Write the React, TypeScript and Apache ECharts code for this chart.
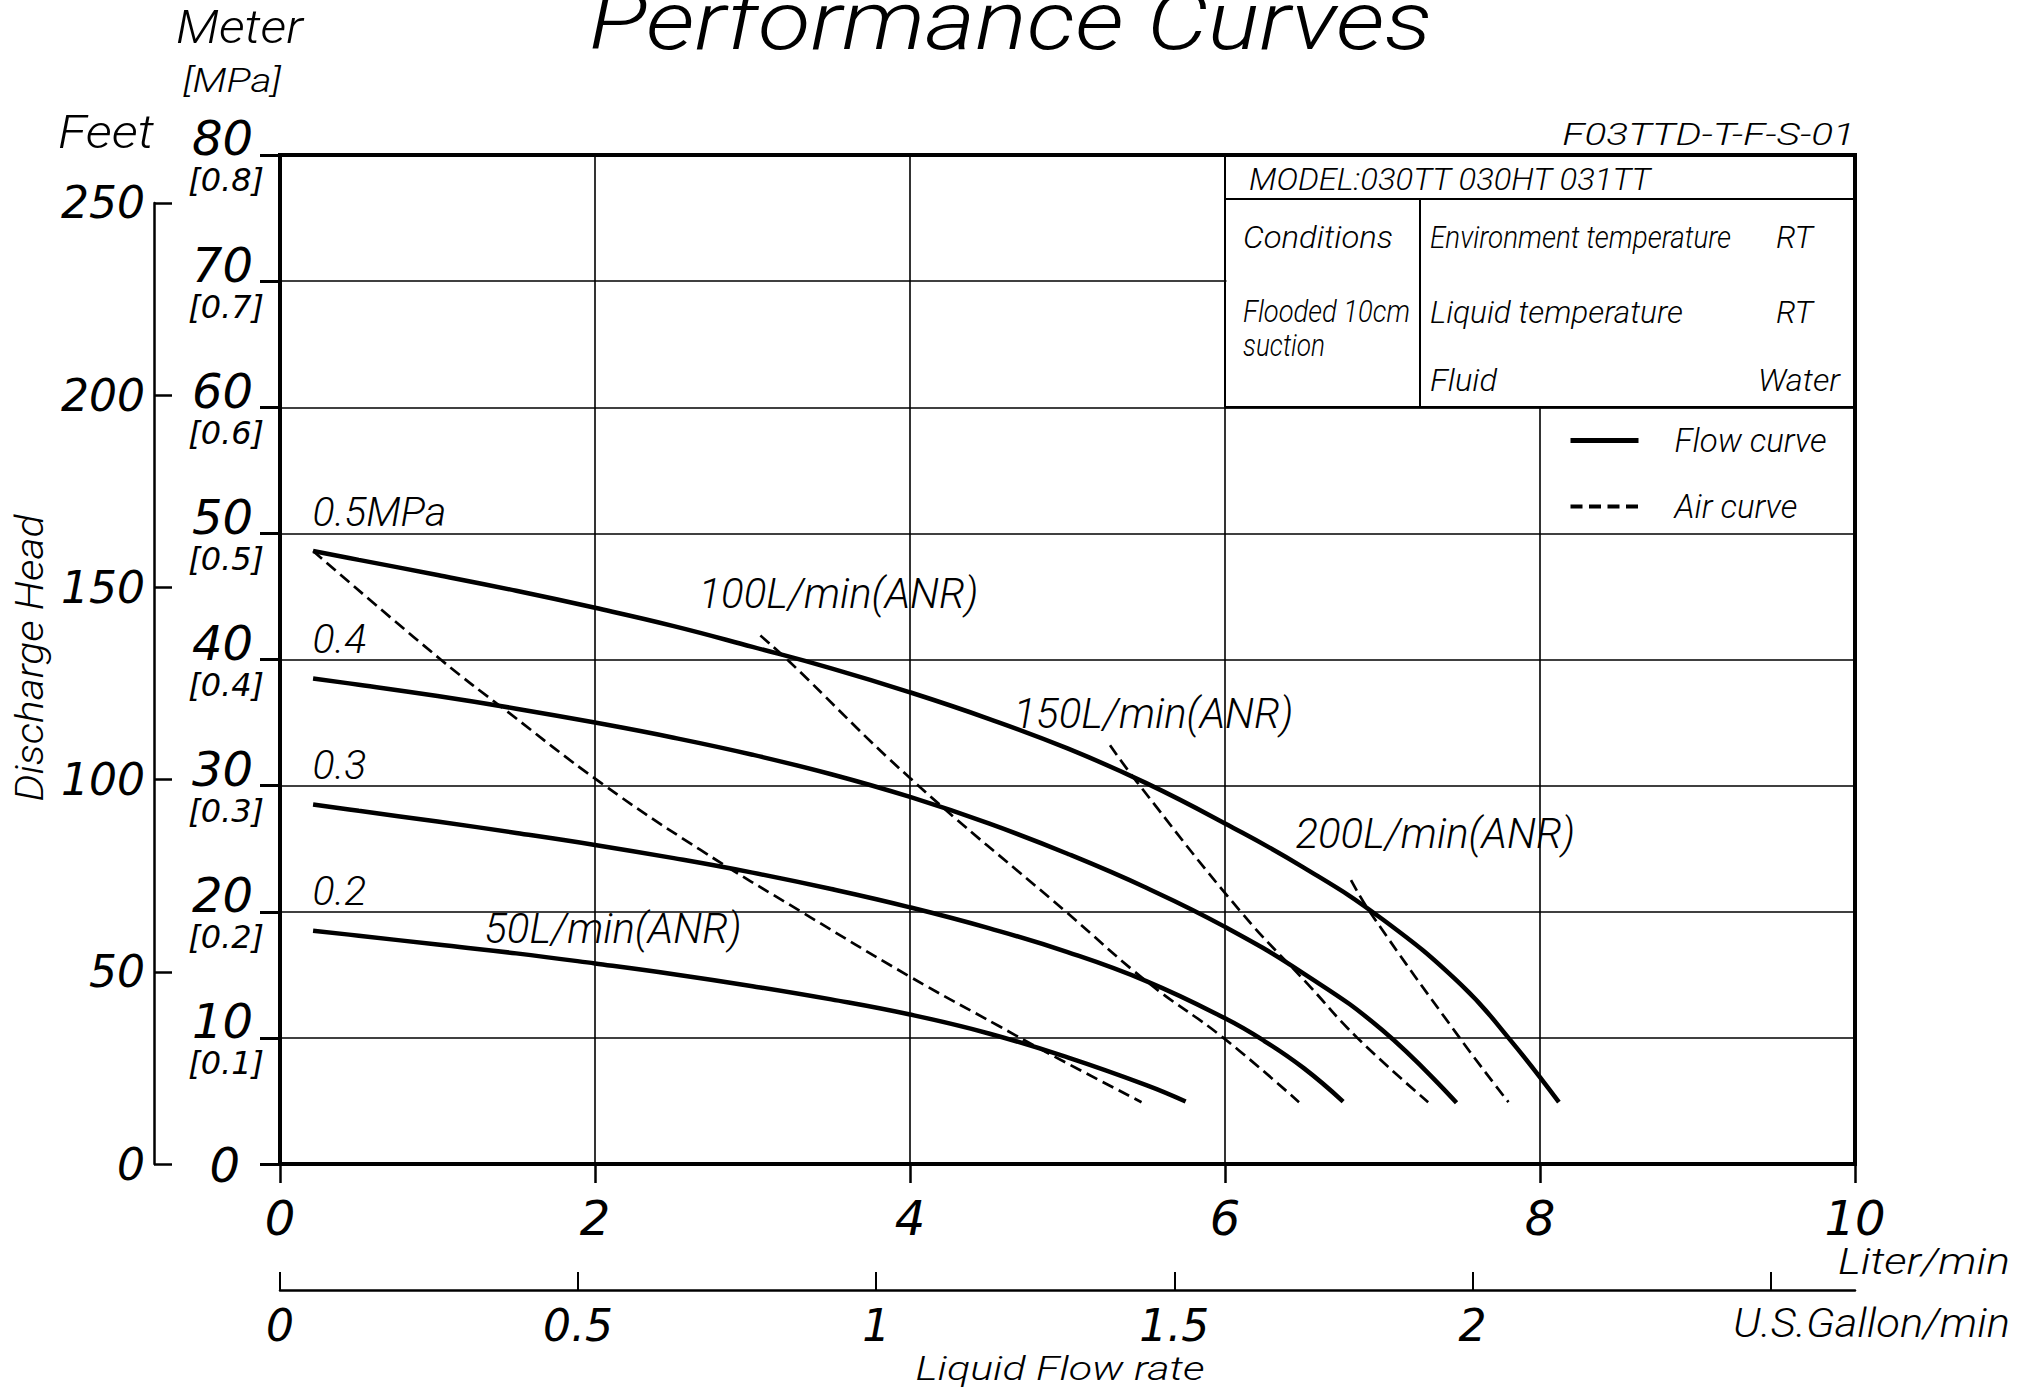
import React, { useEffect, useRef } from 'react';
import * as echarts from 'echarts';

const W = 2035;
const H = 1389;
const FF = '"DejaVu Sans", "Liberation Sans", Arial, sans-serif';
const FT = 'Roboto, "DejaVu Sans", sans-serif';

// ---------- axis ticks & labels ----------
const flowTicks = [0, 2, 4, 6, 8, 10];
const meterTicks = [0, 10, 20, 30, 40, 50, 60, 70, 80];
const mpaTickLabels = ['', '[0.1]', '[0.2]', '[0.3]', '[0.4]', '[0.5]', '[0.6]', '[0.7]', '[0.8]'];
const feetTicks = [0, 50, 100, 150, 200, 250];
const gallonTicks = [0, 0.5, 1, 1.5, 2, 2.5];
const gallonTickLabels = [0, 0.5, 1, 1.5, 2];

// ---------- flow curves (L/min, m) ----------
const flow05 = [[0.21, 48.6], [0.5, 47.9], [1, 46.7], [1.5, 45.45], [2, 44.1], [2.5, 42.65], [3, 41.0], [3.5, 39.3], [4, 37.4], [4.5, 35.3], [5, 32.95], [5.5, 30.2], [6, 27.0], [6.5, 23.5], [7, 19.4], [7.5, 14.2], [7.8, 10.0], [8.12, 4.9]];
const flow04 = [[0.21, 38.5], [0.5, 38.0], [1, 37.1], [1.5, 36.1], [2, 35.0], [2.5, 33.8], [3, 32.45], [3.5, 30.9], [4, 29.1], [4.5, 27.0], [5, 24.6], [5.5, 21.9], [6, 18.8], [6.5, 15.1], [7, 10.6], [7.47, 4.85]];
const flow03 = [[0.21, 28.5], [0.5, 28.0], [1, 27.15], [1.5, 26.25], [2, 25.3], [2.5, 24.25], [3, 23.1], [3.5, 21.8], [4, 20.35], [4.5, 18.7], [5, 16.8], [5.5, 14.5], [6, 11.55], [6.25, 9.75], [6.5, 7.6], [6.75, 4.95]];
const flow02 = [[0.21, 18.5], [0.5, 18.1], [1, 17.4], [1.5, 16.7], [2, 15.9], [2.5, 15.05], [3, 14.1], [3.5, 13.05], [4, 11.85], [4.5, 10.35], [5, 8.45], [5.5, 6.25], [5.75, 4.95]];

// ---------- air curves (L/min, m) ----------
const air50 = [[0.21, 48.6], [1.02, 40.0], [1.43, 36.0], [2.04, 30.2], [2.67, 24.9], [3.31, 20.0], [4.0, 14.85], [4.57, 10.9], [4.86, 8.9], [5.47, 4.9]];
const air100 = [[3.05, 41.9], [3.22, 40.0], [4.0, 30.6], [4.99, 20.0], [5.51, 14.4], [5.99, 10.0], [6.47, 4.9]];
const air150 = [[5.27, 33.2], [5.44, 30.3], [6.1, 20.0], [6.53, 14.2], [6.84, 10.0], [7.29, 4.9]];
const air200 = [[6.8, 22.5], [6.93, 19.8], [7.49, 10.0], [7.8, 4.9]];

// ---------- curve annotations ----------
const pressureLabels = [
  { text: '0.5MPa', x: 0.21, y: 50 },
  { text: '0.4', x: 0.21, y: 40 },
  { text: '0.3', x: 0.21, y: 30 },
  { text: '0.2', x: 0.21, y: 20 },
];
const airLabels = [
  { text: '50L/min(ANR)', x: 1.3, y: 17.0 },
  { text: '100L/min(ANR)', x: 2.66, y: 43.56 },
  { text: '150L/min(ANR)', x: 4.66, y: 34.02 },
  { text: '200L/min(ANR)', x: 6.45, y: 24.53 },
];

// ---------- info table texts ----------
const modelText = 'MODEL:030TT 030HT 031TT';
const conditionRows = [
  { name: 'Environment temperature', value: 'RT' },
  { name: 'Liquid temperature', value: 'RT' },
  { name: 'Fluid', value: 'Water' },
];

function measure(text: string, fs: number, weight: string | number, family: string) {
  const ctx = document.createElement('canvas').getContext('2d') as CanvasRenderingContext2D;
  ctx.font = `italic ${weight} ${fs}px ${family}`;
  return ctx.measureText(text).width || 1;
}

function gtext(text: string, x: number, baseline: number, fs: number, width: number, align: string = 'left', family: string = FT, weight: string | number = 300) {
  const w = measure(text, fs, weight, family);
  return {
    type: 'text',
    x,
    y: baseline - 0.342 * fs,
    scaleX: width / w,
    z: 120,
    silent: true,
    style: {
      text,
      fill: '#000',
      fontSize: fs,
      fontFamily: family,
      fontStyle: 'italic',
      fontWeight: weight,
      align,
      verticalAlign: 'middle',
    },
  };
}

function gline(x1: number, y1: number, x2: number, y2: number, w: number) {
  return {
    type: 'line',
    z: 115,
    silent: true,
    shape: { x1, y1, x2, y2 },
    style: { stroke: '#000', lineWidth: w },
  };
}

function buildOption() {
  const GL = 280, GR = 180, GT = 155, GB = 225;
  const gw = W - GL - GR;
  const gh = H - GT - GB;
  const px = (v: number) => GL + (v / 10) * gw;
  const py = (v: number) => GT + gh - (v / 80) * gh;

  const tLeft = px(6);
  const tRight = px(10);
  const tTop = py(80);
  const tBottom = py(60);
  const rowLine = 199;
  const divX = 1420;

  const lineSeries = (data: number[][], name: string, dashed: boolean) => ({
    type: 'line',
    name,
    data,
    smooth: 0.45,
    symbol: 'none',
    silent: true,
    z: 3,
    itemStyle: { color: '#000' },
    lineStyle: dashed ? { color: '#000', width: 2.7, type: [12, 6] } : { color: '#000', width: 4.5 },
  });

  const annot = (items: { text: string; x: number; y: number }[], fs: number, name: string) => ({
    type: 'scatter',
    name,
    symbolSize: 1,
    silent: true,
    z: 4,
    itemStyle: { color: 'rgba(0,0,0,0)', opacity: 1 },
    data: items.map((l) => ({ value: [l.x, l.y], label: { formatter: l.text } })),
    label: {
      show: true,
      position: [0, 0],
      align: 'left',
      verticalAlign: 'bottom',
      fontSize: fs,
      fontStyle: 'italic',
      fontFamily: FT,
      fontWeight: 300,
      color: '#000',
      opacity: 1,
      textBorderWidth: 0,
      textBorderColor: 'transparent',
    },
  });

  const graphic: any[] = [
    {
      type: 'rect',
      z: 110,
      silent: true,
      shape: { x: tLeft + 1.5, y: tTop + 2, width: tRight - tLeft - 3.5, height: tBottom - tTop - 3 },
      style: { fill: '#fff' },
    },
    gline(tLeft, tTop, tLeft, tBottom, 2),
    gline(tLeft, rowLine, tRight, rowLine, 2),
    gline(divX, rowLine, divX, tBottom, 2),
    gline(tLeft, tBottom, tRight, tBottom, 2.5),
    gtext(modelText, 1249, 190, 31, 403),
    gtext('Conditions', 1243, 248, 31, 150),
    gtext('Flooded 10cm', 1243, 322, 31, 167),
    gtext('suction', 1243, 356, 31, 82),
    gtext(conditionRows[0].name, 1430, 248, 31, 301),
    gtext(conditionRows[0].value, 1776, 248, 31, 37),
    gtext(conditionRows[1].name, 1430, 323, 31, 253),
    gtext(conditionRows[1].value, 1776, 323, 31, 37),
    gtext(conditionRows[2].name, 1430, 391, 31, 67),
    gtext(conditionRows[2].value, 1758, 391, 31, 82),
    gtext('F03TTD-T-F-S-01', 1855, 145, 31, 293, 'right'),
    gtext('Performance Curves', 589, 49, 81, 843),
    gtext('Meter', 176, 43, 47, 127),
    gtext('[MPa]', 183, 92, 33, 98),
    gtext('Feet', 58, 148, 46, 96),
    gtext('Liter/min', 1838, 1274, 37, 172),
    gtext('U.S.Gallon/min', 1733, 1337, 40, 277),
    gtext('Liquid Flow rate', 1060, 1380, 33, 289, 'center'),
  ];

  const dhW = measure('Discharge Head', 38, 300, FT);
  graphic.push({
    type: 'text',
    x: 30,
    y: 658,
    rotation: Math.PI / 2,
    scaleX: 287 / dhW,
    z: 120,
    silent: true,
    style: {
      text: 'Discharge Head',
      fill: '#000',
      fontSize: 38,
      fontFamily: FT,
      fontStyle: 'italic',
      fontWeight: 300,
      align: 'center',
      verticalAlign: 'middle',
    },
  });

  const labelFont = { fontFamily: FF, fontStyle: 'italic', color: '#000' };

  return {
    animation: false,
    backgroundColor: '#fff',
    grid: [
      { left: GL, right: GR, top: GT, bottom: GB, show: true, borderColor: '#000', borderWidth: 4, backgroundColor: 'transparent' },
      { left: 154, width: 20, top: py(250 * 0.3048), bottom: GB },
      { left: GL, right: GR, top: 1280, bottom: 99 },
    ],
    xAxis: [
      {
        type: 'value',
        gridIndex: 0,
        min: flowTicks[0],
        max: flowTicks[flowTicks.length - 1],
        interval: 2,
        axisLine: { show: true, lineStyle: { color: '#000', width: 4 } },
        axisTick: { show: true, length: 19, lineStyle: { color: '#000', width: 2.5 } },
        axisLabel: { ...labelFont, fontSize: 48, margin: 30 },
        splitLine: { show: true, lineStyle: { color: '#000', width: 1.6 } },
      },
      { type: 'value', gridIndex: 1, show: false, min: 0, max: 1 },
      {
        type: 'value',
        gridIndex: 2,
        position: 'bottom',
        min: 0,
        max: 10 / 3.785411784,
        interval: 0.5,
        axisLine: { show: true, lineStyle: { color: '#000', width: 2.5 } },
        axisTick: { show: true, inside: true, length: 18, lineStyle: { color: '#000', width: 2 }, customValues: gallonTicks },
        axisLabel: {
          ...labelFont,
          fontSize: 44,
          margin: 13,
          customValues: gallonTickLabels,
          formatter: (v: number) => (gallonTickLabels.indexOf(v) >= 0 ? String(v) : ''),
        },
        splitLine: { show: false },
      },
    ],
    yAxis: [
      {
        type: 'value',
        gridIndex: 0,
        min: meterTicks[0],
        max: meterTicks[meterTicks.length - 1],
        interval: 10,
        axisLine: { show: true, lineStyle: { color: '#000', width: 4 } },
        axisTick: { show: true, length: 20, lineStyle: { color: '#000', width: 3 } },
        axisLabel: {
          margin: 16,
          padding: [2.8, 0, 0, 0],
          align: 'right',
          formatter: (v: number) => {
            const i = Math.round(v / 10);
            if (v === 0) return '{c|0}';
            return `{a|${v}}\n{b|${mpaTickLabels[i]}}`;
          },
          rich: {
            a: { ...labelFont, fontSize: 48, lineHeight: 48, padding: [0, 11, 0, 0] },
            b: { ...labelFont, fontSize: 32, lineHeight: 36 },
            c: { ...labelFont, fontSize: 48, lineHeight: 48, padding: [0, 24, 0, 0] },
          },
        },
        splitLine: { show: true, lineStyle: { color: '#000', width: 1.6 } },
      },
      {
        type: 'value',
        gridIndex: 1,
        position: 'left',
        min: feetTicks[0],
        max: feetTicks[feetTicks.length - 1],
        interval: 50,
        axisLine: { show: true, lineStyle: { color: '#000', width: 2.5 } },
        axisTick: { show: true, inside: true, length: 18, lineStyle: { color: '#000', width: 2.5 } },
        axisLabel: { ...labelFont, fontSize: 44, margin: 9 },
        splitLine: { show: false },
      },
      { type: 'value', gridIndex: 2, show: false, min: 0, max: 1 },
    ],
    legend: {
      orient: 'vertical',
      left: 1568,
      top: 424,
      itemWidth: 68,
      itemHeight: 14,
      itemGap: 33,
      padding: 0,
      selectedMode: false,
      itemStyle: { opacity: 0, borderWidth: 0 },
      data: [
        { name: 'Flow curve', lineStyle: { width: 5, color: '#000', type: 'solid' }, itemStyle: { opacity: 0, borderWidth: 0 } },
        { name: 'Air curve', lineStyle: { width: 4, color: '#000', type: [12, 6.5] }, itemStyle: { opacity: 0, borderWidth: 0 } },
      ],
      formatter: (n: string) => `{t|${n}}`,
      textStyle: {
        rich: {
          t: { fontFamily: FT, fontWeight: 300, fontStyle: 'italic', color: '#000', fontSize: 33, lineHeight: 30, padding: [0, 0, 0, 31] },
        },
      },
    },
    series: [
      lineSeries(flow05, 'Flow curve', false),
      lineSeries(flow04, 'Flow curve', false),
      lineSeries(flow03, 'Flow curve', false),
      lineSeries(flow02, 'Flow curve', false),
      lineSeries(air50, 'Air curve', true),
      lineSeries(air100, 'Air curve', true),
      lineSeries(air150, 'Air curve', true),
      lineSeries(air200, 'Air curve', true),
      annot(pressureLabels, 41, 'pressure labels'),
      annot(airLabels, 42, 'air labels'),
    ],
    graphic,
  };
}

export default function App() {
  const ref = useRef<HTMLDivElement>(null);
  useEffect(() => {
    const chart = echarts.init(ref.current as HTMLDivElement, null, { renderer: 'svg' });
    chart.setOption(buildOption() as any);
    return () => chart.dispose();
  }, []);
  return (
    <div
      ref={ref}
      style={{ position: 'absolute', left: 0, top: 0, width: W, height: H, background: '#fff' }}
    />
  );
}
